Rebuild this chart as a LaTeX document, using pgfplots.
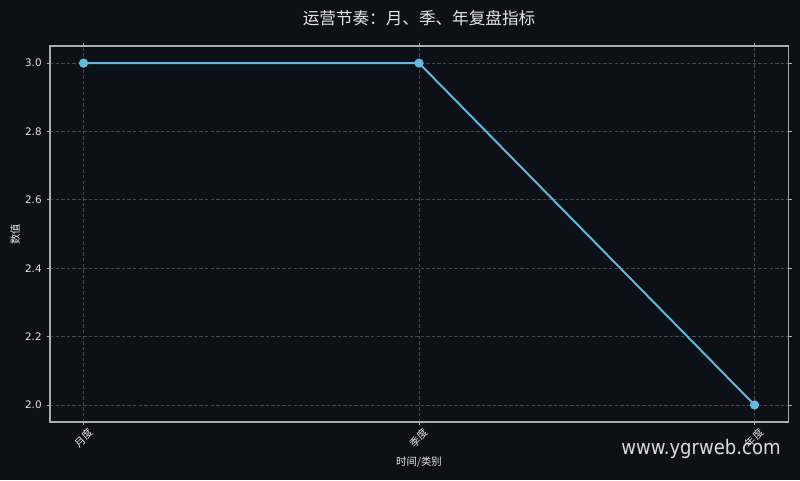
\documentclass[border=0pt]{standalone}
\usepackage{fontspec}
\setmainfont{DejaVu Sans}
\newfontfamily\cjk{Noto Sans CJK SC}
\newfontfamily\wmfont{DejaVu Sans Condensed}
\usepackage{pgfplots}
\pgfplotsset{compat=1.18}
\definecolor{bg}{RGB}{13,17,23}
\definecolor{fg}{RGB}{225,228,232}
\definecolor{frame}{RGB}{170,172,176}
\definecolor{linec}{RGB}{98,186,220}
\begin{document}
\begin{tikzpicture}[x=1bp,y=1bp]
\fill[bg] (0,0) rectangle (576,345.6);
\useasboundingbox (0,0) rectangle (576,345.6);
\begin{axis}[
  at={(36bp,41.76bp)}, anchor=south west,
  scale only axis, width=531.4bp, height=270.7bp,
  xmin=-0.1, xmax=2.1, ymin=1.95, ymax=3.05,
  xtick={0,1,2},
  xticklabels={{\cjk 月度},{\cjk 季度},{\cjk 年度}},
  ytick={2.0,2.2,2.4,2.6,2.8,3.0},
  yticklabel style={/pgf/number format/.cd, fixed, fixed zerofill, precision=1},
  /pgf/number format/assume math mode=true,
  tick label style={font=\fontsize{7.5}{9}\selectfont, text=fg},
  xticklabel style={yshift=-9pt, rotate=45, anchor=center},
  tick align=outside, major tick length=2.5bp,
  tick style={frame, line width=0.6pt},
  axis line style={frame, line width=0.8pt},
  grid=major,
  major grid style={gray, opacity=0.5, dash pattern=on 2.5pt off 1.5pt, line width=0.5pt},
  every axis title shift=0pt,
  title={\cjk 运营节奏：月、季、年复盘指标},
  title style={at={(axis description cs:0.5,1.074)}, anchor=center, font=\fontsize{12}{14}\selectfont, text=fg},
  xlabel={\cjk 时间/类别},
  xlabel style={at={(axis description cs:0.5,-0.106)}, anchor=center, font=\fontsize{7.5}{9}\selectfont, text=fg},
  ylabel={\cjk 数值},
  ylabel style={at={(axis description cs:-0.047,0.5)}, anchor=center, font=\fontsize{7.5}{9}\selectfont, text=fg},
]
\addplot[linec, line width=1.4pt, mark=*, mark size=2.6pt, mark options={fill=linec, draw=linec}]
  coordinates {(0,3.0) (1,3.0) (2,2.0)};
\end{axis}
\node[text=white, opacity=0.85, font=\wmfont\fontsize{14.5}{16}\selectfont] at (504.7,22.5) {www.ygrweb.com};
\end{tikzpicture}
\end{document}
